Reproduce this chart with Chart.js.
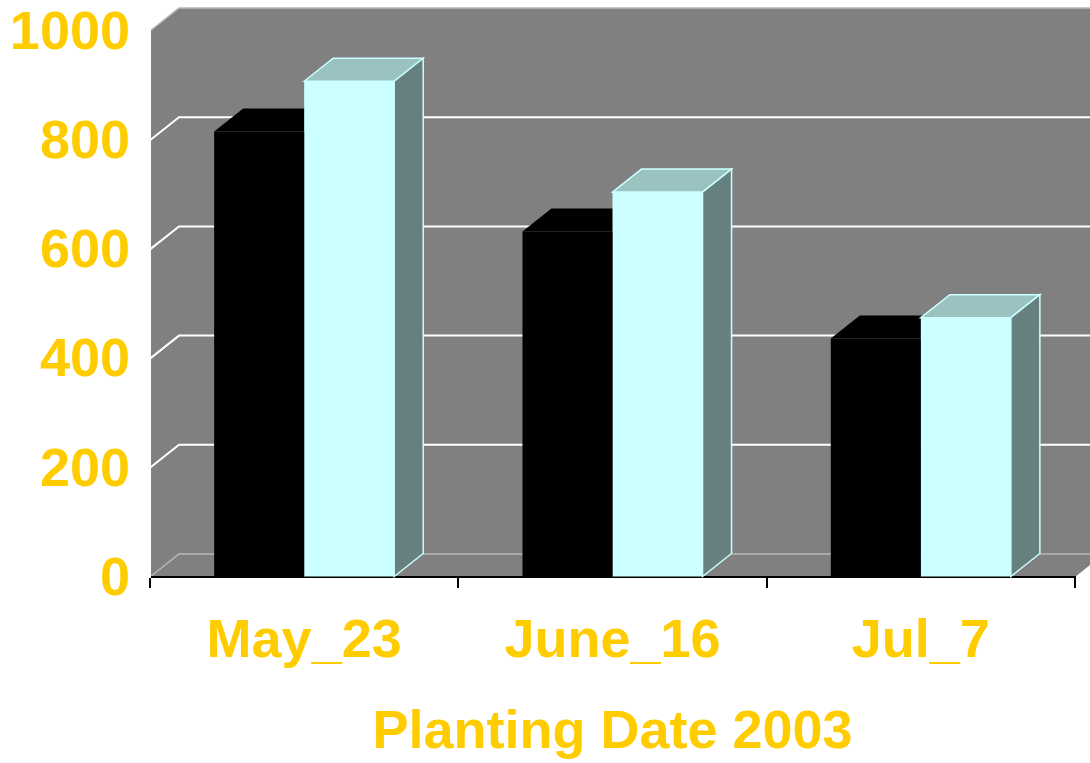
<!DOCTYPE html>
<html>
<head>
<meta charset="utf-8">
<script src="https://cdn.jsdelivr.net/npm/chart.js@4"></script>
<style>
  html, body { margin: 0; padding: 0; background: #ffffff; }
  #wrap { width: 1090px; height: 763px; position: relative; }
</style>
</head>
<body>
<div id="wrap"><canvas id="grafico"></canvas></div>
<script>
// dados
const categorias = ['May_23', 'June_16', 'Jul_7'];
const serieEscura = [816, 633, 437];
const serieClara = [908, 705, 475];
const yMin = 0, yMax = 1000, yPasso = 200;

// profundidade do efeito 3D
const DX = 29, DY = -23;
const AMARELO = '#FFCC00';
const FONTE = "'Liberation Sans', Arial, sans-serif";

// paredes, chão e linhas de grade (antes das escalas)
const paredes = {
    id: 'paredes',
    beforeDraw(chart) {
        const { ctx, chartArea: a, scales: { y } } = chart;
        const yTop = y.getPixelForValue(yMax), yBase = y.getPixelForValue(yMin);
        ctx.save();
        ctx.fillStyle = '#808080';
        ctx.beginPath();
        ctx.moveTo(a.left, yTop);
        ctx.lineTo(a.left + DX, yTop + DY);
        ctx.lineTo(a.right + DX, yTop + DY);
        ctx.lineTo(a.right + DX, yBase + DY);
        ctx.lineTo(a.right, yBase);
        ctx.lineTo(a.left, yBase);
        ctx.closePath();
        ctx.fill();
        for (let v = yMin; v <= yMax; v += yPasso) {
            const py = y.getPixelForValue(v);
            const borda = (v === yMin || v === yMax);
            ctx.strokeStyle = borda ? '#b8b8b8' : '#ffffff';
            ctx.lineWidth = borda ? 1.5 : 2;
            ctx.beginPath();
            ctx.moveTo(a.left, py);
            ctx.lineTo(a.left + DX, py + DY);
            ctx.lineTo(a.right + DX, py + DY);
            ctx.stroke();
        }
        ctx.restore();
    }
};

// topo e lateral das colunas (a frente é desenhada pelo Chart.js)
const colunas3d = {
    id: 'colunas3d',
    beforeDatasetsDraw(chart) {
        const ctx = chart.ctx;
        ctx.save();
        chart.data.datasets.forEach((ds, i) => {
            const meta = chart.getDatasetMeta(i);
            meta.data.forEach(bar => {
                const { x, y, base, width } = bar.getProps(['x', 'y', 'base', 'width'], true);
                const l = x - width / 2, r = x + width / 2;
                // topo
                ctx.fillStyle = ds.corTopo;
                ctx.beginPath();
                ctx.moveTo(l, y);
                ctx.lineTo(l + DX, y + DY);
                ctx.lineTo(r + DX, y + DY);
                ctx.lineTo(r, y);
                ctx.closePath();
                ctx.fill();
                if (ds.corAresta) {
                    ctx.strokeStyle = ds.corAresta;
                    ctx.lineWidth = 1.5;
                    ctx.stroke();
                }
                // lateral
                ctx.fillStyle = ds.corLado;
                ctx.beginPath();
                ctx.moveTo(r, y);
                ctx.lineTo(r + DX, y + DY);
                ctx.lineTo(r + DX, base + DY);
                ctx.lineTo(r, base);
                ctx.closePath();
                ctx.fill();
                if (ds.corAresta) ctx.stroke();
            });
        });
        ctx.restore();
    }
};

new Chart(document.getElementById('grafico'), {
    type: 'bar',
    data: {
        labels: categorias,
        datasets: [
            {
                label: 'A',
                data: serieEscura,
                backgroundColor: '#000000',
                corTopo: '#000000',
                corLado: '#000000',
                borderWidth: 0,
                categoryPercentage: 0.584,
                barPercentage: 1
            },
            {
                label: 'B',
                data: serieClara,
                backgroundColor: '#CCFFFF',
                corTopo: '#99C2C0',
                corLado: '#668080',
                corAresta: '#CCFFFF',
                borderWidth: 0,
                categoryPercentage: 0.584,
                barPercentage: 1
            }
        ]
    },
    options: {
        responsive: true,
        maintainAspectRatio: false,
        animation: false,
        layout: { padding: { top: 31, right: 15, left: 0, bottom: 0 } },
        plugins: { legend: { display: false }, tooltip: { enabled: false } },
        scales: {
            x: {
                afterFit: s => { s.height = 186; s.paddingLeft = 0; s.paddingRight = 0; },
                grid: { display: true, drawOnChartArea: false, drawTicks: true, tickLength: 11, color: '#000000', lineWidth: 2, offset: true },
                border: { display: true, color: '#000000', width: 2 },
                ticks: { color: AMARELO, padding: 22, font: { family: FONTE, size: 54, weight: 'bold' } },
                title: {
                    display: true,
                    text: 'Planting Date 2003',
                    color: AMARELO,
                    padding: { top: 0, bottom: -3 },
                    font: { family: FONTE, size: 54, weight: 'bold' }
                }
            },
            y: {
                min: yMin,
                max: yMax,
                afterFit: s => { s.width = 150; s.paddingTop = 0; s.paddingBottom = 0; },
                grid: { display: true, drawOnChartArea: false, drawTicks: false },
                border: { display: true, color: '#ffffff', width: 2 },
                ticks: {
                    stepSize: yPasso,
                    color: AMARELO,
                    padding: 20,
                    labelOffset: 3,
                    font: { family: FONTE, size: 54, weight: 'bold' },
                    callback: v => String(v)
                }
            }
        }
    },
    plugins: [paredes, colunas3d]
});
</script>
</body>
</html>
